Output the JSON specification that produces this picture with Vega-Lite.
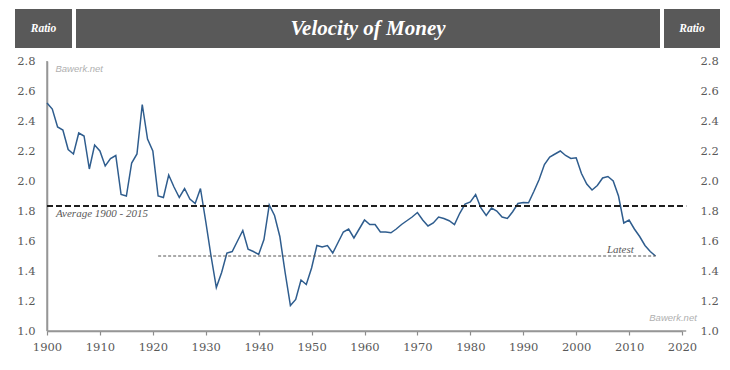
{
  "$schema": "https://vega.github.io/schema/vega-lite/v6.json",
  "background": "white",
  "padding": {"left": 15, "top": 9, "right": 4, "bottom": 4},
  "spacing": 7,
  "config": {
    "view": {"stroke": null},
    "concat": {"spacing": 4},
    "axis": {"domain": true, "domainColor": "#8c8c8c", "domainWidth": 1.5, "domainOpacity": 1, "domainDash": [],
             "tickColor": "#8c8c8c", "tickWidth": 1.2, "tickOpacity": 1, "tickDash": []}
  },
  "vconcat": [
    {
      "hconcat": [
        {
          "width": 57, "height": 39,
          "view": {"fill": "#595959", "stroke": null},
          "data": {"values": [{"t": "Ratio"}]},
          "mark": {"type": "text", "font": "Liberation Serif", "fontStyle": "italic", "fontWeight": "bold", "fontSize": 11.5, "color": "white"},
          "encoding": {"text": {"field": "t"}}
        },
        {
          "width": 584, "height": 39,
          "view": {"fill": "#595959", "stroke": null},
          "data": {"values": [{"t": "Velocity of Money"}]},
          "mark": {"type": "text", "font": "Liberation Serif", "fontStyle": "italic", "fontWeight": "bold", "fontSize": 21, "color": "white"},
          "encoding": {"text": {"field": "t"}}
        },
        {
          "width": 56, "height": 39,
          "view": {"fill": "#595959", "stroke": null},
          "data": {"values": [{"t": "Ratio"}]},
          "mark": {"type": "text", "font": "Liberation Serif", "fontStyle": "italic", "fontWeight": "bold", "fontSize": 11.5, "color": "white"},
          "encoding": {"text": {"field": "t"}}
        }
      ]
    },
    {
      "width": 705,
      "height": 270,
      "data": {"values": [
        {"year": 1900, "value": 2.52}, {"year": 1901, "value": 2.48}, {"year": 1902, "value": 2.36}, {"year": 1903, "value": 2.34},
        {"year": 1904, "value": 2.21}, {"year": 1905, "value": 2.18}, {"year": 1906, "value": 2.32}, {"year": 1907, "value": 2.30},
        {"year": 1908, "value": 2.08}, {"year": 1909, "value": 2.24}, {"year": 1910, "value": 2.20}, {"year": 1911, "value": 2.10},
        {"year": 1912, "value": 2.15}, {"year": 1913, "value": 2.17}, {"year": 1914, "value": 1.91}, {"year": 1915, "value": 1.90},
        {"year": 1916, "value": 2.12}, {"year": 1917, "value": 2.18}, {"year": 1918, "value": 2.51}, {"year": 1919, "value": 2.28},
        {"year": 1920, "value": 2.20}, {"year": 1921, "value": 1.90}, {"year": 1922, "value": 1.89}, {"year": 1923, "value": 2.04},
        {"year": 1924, "value": 1.96}, {"year": 1925, "value": 1.89}, {"year": 1926, "value": 1.95}, {"year": 1927, "value": 1.88},
        {"year": 1928, "value": 1.85}, {"year": 1929, "value": 1.95}, {"year": 1930, "value": 1.73}, {"year": 1931, "value": 1.50},
        {"year": 1932, "value": 1.29}, {"year": 1933, "value": 1.39}, {"year": 1934, "value": 1.52}, {"year": 1935, "value": 1.53},
        {"year": 1936, "value": 1.60}, {"year": 1937, "value": 1.67}, {"year": 1938, "value": 1.545}, {"year": 1939, "value": 1.53},
        {"year": 1940, "value": 1.51}, {"year": 1941, "value": 1.61}, {"year": 1942, "value": 1.84}, {"year": 1943, "value": 1.77},
        {"year": 1944, "value": 1.63}, {"year": 1945, "value": 1.39}, {"year": 1946, "value": 1.17}, {"year": 1947, "value": 1.21},
        {"year": 1948, "value": 1.34}, {"year": 1949, "value": 1.31}, {"year": 1950, "value": 1.42}, {"year": 1951, "value": 1.57},
        {"year": 1952, "value": 1.56}, {"year": 1953, "value": 1.57}, {"year": 1954, "value": 1.52}, {"year": 1955, "value": 1.59},
        {"year": 1956, "value": 1.66}, {"year": 1957, "value": 1.68}, {"year": 1958, "value": 1.62}, {"year": 1959, "value": 1.68},
        {"year": 1960, "value": 1.74}, {"year": 1961, "value": 1.71}, {"year": 1962, "value": 1.71}, {"year": 1963, "value": 1.66},
        {"year": 1964, "value": 1.66}, {"year": 1965, "value": 1.655}, {"year": 1966, "value": 1.68}, {"year": 1967, "value": 1.71},
        {"year": 1968, "value": 1.735}, {"year": 1969, "value": 1.76}, {"year": 1970, "value": 1.79}, {"year": 1971, "value": 1.74},
        {"year": 1972, "value": 1.70}, {"year": 1973, "value": 1.72}, {"year": 1974, "value": 1.76}, {"year": 1975, "value": 1.75},
        {"year": 1976, "value": 1.735}, {"year": 1977, "value": 1.71}, {"year": 1978, "value": 1.785}, {"year": 1979, "value": 1.846},
        {"year": 1980, "value": 1.86}, {"year": 1981, "value": 1.91}, {"year": 1982, "value": 1.82}, {"year": 1983, "value": 1.77},
        {"year": 1984, "value": 1.82}, {"year": 1985, "value": 1.80}, {"year": 1986, "value": 1.76}, {"year": 1987, "value": 1.75},
        {"year": 1988, "value": 1.795}, {"year": 1989, "value": 1.85}, {"year": 1990, "value": 1.857}, {"year": 1991, "value": 1.855},
        {"year": 1992, "value": 1.93}, {"year": 1993, "value": 2.01}, {"year": 1994, "value": 2.11}, {"year": 1995, "value": 2.16},
        {"year": 1996, "value": 2.18}, {"year": 1997, "value": 2.20}, {"year": 1998, "value": 2.17}, {"year": 1999, "value": 2.15},
        {"year": 2000, "value": 2.155}, {"year": 2001, "value": 2.05}, {"year": 2002, "value": 1.98}, {"year": 2003, "value": 1.94},
        {"year": 2004, "value": 1.97}, {"year": 2005, "value": 2.02}, {"year": 2006, "value": 2.03}, {"year": 2007, "value": 2.00},
        {"year": 2008, "value": 1.90}, {"year": 2009, "value": 1.72}, {"year": 2010, "value": 1.74}, {"year": 2011, "value": 1.68},
        {"year": 2012, "value": 1.63}, {"year": 2013, "value": 1.57}, {"year": 2014, "value": 1.53}, {"year": 2015, "value": 1.50}
      ]},
      "layer": [
        {
          "data": {"values": [{"axisline": "bottom"}]},
          "mark": {"type": "rule", "color": "#9a9a9a", "strokeWidth": 1.5},
          "encoding": {
            "x": {"datum": 1900, "type": "quantitative"},
            "x2": {"datum": 2020.8},
            "y": {"datum": 1.0, "type": "quantitative", "axis": null}
          }
        },
        {
          "data": {"values": [{"axisline": "left"}]},
          "mark": {"type": "rule", "color": "#9a9a9a", "strokeWidth": 1.5},
          "encoding": {
            "x": {"datum": 1900, "type": "quantitative"},
            "y": {"datum": 1.0, "type": "quantitative", "axis": null},
            "y2": {"datum": 2.8}
          }
        },
        {
          "mark": {"type": "line", "color": "#2f5d8e", "strokeWidth": 1.5},
          "encoding": {
            "x": {"field": "year", "type": "quantitative",
                  "scale": {"domain": [1900, 2020], "range": [32, 667], "nice": false, "zero": false},
                  "axis": {"title": null, "values": [1900, 1910, 1920, 1930, 1940, 1950, 1960, 1970, 1980, 1990, 2000, 2010, 2020],
                           "format": "d", "grid": false, "labelFlush": false, "labelOverlap": false,
                           "domain": true, "ticks": true, "tickSize": 4, "labelPadding": 6,
                           "labelFont": "DejaVu Serif", "labelFontSize": 11.5, "labelColor": "#595959"}},
            "y": {"field": "value", "type": "quantitative",
                  "scale": {"domain": [1.0, 2.8], "nice": false, "zero": false},
                  "axis": {"orient": "left", "offset": -32, "title": null, "values": [1.0, 1.2, 1.4, 1.6, 1.8, 2.0, 2.2, 2.4, 2.6, 2.8],
                           "format": ".1f", "grid": false, "ticks": false, "labelFlush": false, "labelOverlap": false,
                           "domain": true, "labelPadding": 12, "labelFont": "DejaVu Serif", "labelFontSize": 11.5, "labelColor": "#595959"}}
          }
        },
        {
          "data": {"values": [{"avg": 1.834}]},
          "mark": {"type": "rule", "color": "#1e1e1e", "strokeWidth": 2, "strokeDash": [6, 3]},
          "encoding": {
            "x": {"datum": 1900, "type": "quantitative"},
            "x2": {"datum": 2020.8},
            "y": {"field": "avg", "type": "quantitative",
                  "axis": {"orient": "right", "offset": -20, "title": null, "values": [1.0, 1.2, 1.4, 1.6, 1.8, 2.0, 2.2, 2.4, 2.6, 2.8],
                           "format": ".1f", "grid": false, "ticks": false, "domain": false, "labelFlush": false, "labelOverlap": false,
                           "labelPadding": 0, "labelFont": "DejaVu Serif", "labelFontSize": 11.5, "labelColor": "#595959"}}
          }
        },
        {
          "data": {"values": [{"start": 1921, "end": 2015, "latest": 1.50}]},
          "mark": {"type": "rule", "color": "#555555", "strokeWidth": 1, "strokeDash": [3, 2]},
          "encoding": {
            "x": {"field": "start", "type": "quantitative"},
            "x2": {"field": "end"},
            "y": {"field": "latest", "type": "quantitative", "axis": null}
          }
        },
        {
          "data": {"values": [{"t": "Average 1900 - 2015"}]},
          "mark": {"type": "text", "align": "left", "baseline": "middle", "font": "Liberation Serif", "fontStyle": "italic", "fontSize": 11, "color": "#595959"},
          "encoding": {
            "x": {"datum": 1901.7, "type": "quantitative"},
            "y": {"datum": 1.78, "type": "quantitative", "axis": null},
            "text": {"field": "t"}
          }
        },
        {
          "data": {"values": [{"t": "Latest"}]},
          "mark": {"type": "text", "align": "right", "baseline": "middle", "font": "Liberation Serif", "fontStyle": "italic", "fontSize": 11, "color": "#595959"},
          "encoding": {
            "x": {"datum": 2010.9, "type": "quantitative"},
            "y": {"datum": 1.54, "type": "quantitative", "axis": null},
            "text": {"field": "t"}
          }
        },
        {
          "data": {"values": [{"t": "Bawerk.net"}]},
          "mark": {"type": "text", "align": "left", "baseline": "middle", "font": "Liberation Sans", "fontStyle": "italic", "fontSize": 9.5, "color": "#b0b0b0"},
          "encoding": {
            "x": {"datum": 1901.6, "type": "quantitative"},
            "y": {"datum": 2.745, "type": "quantitative", "axis": null},
            "text": {"field": "t"}
          }
        },
        {
          "data": {"values": [{"t": "Bawerk.net"}]},
          "mark": {"type": "text", "align": "right", "baseline": "middle", "font": "Liberation Sans", "fontStyle": "italic", "fontSize": 9.5, "color": "#b0b0b0"},
          "encoding": {
            "x": {"datum": 2022.8, "type": "quantitative"},
            "y": {"datum": 1.087, "type": "quantitative", "axis": null},
            "text": {"field": "t"}
          }
        }
      ],
      "resolve": {"scale": {"y": "shared", "x": "shared"}, "axis": {"y": "independent"}}
    }
  ]
}
